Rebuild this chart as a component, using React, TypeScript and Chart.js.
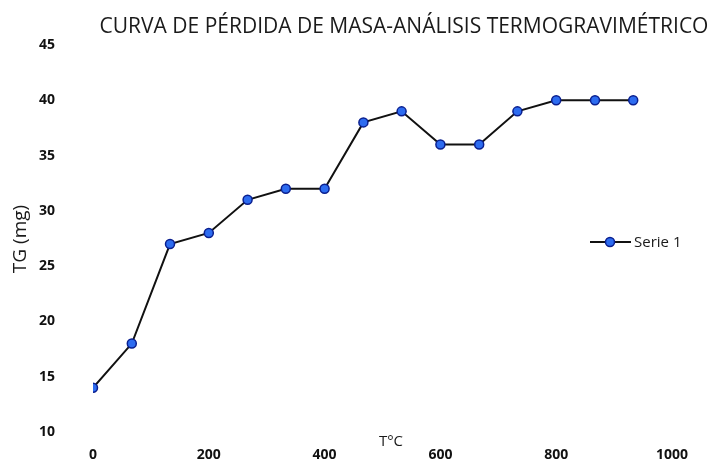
import React, { useEffect, useRef } from "react";
import { Chart, registerables } from "chart.js";

Chart.register(...registerables);

const temperatures = [0, 67, 133, 200, 267, 333, 400, 467, 533, 600, 667, 733, 800, 867, 933];
const masses = [14, 18, 27, 28, 31, 32, 32, 38, 39, 36, 36, 39, 40, 40, 40];
const seriesName = "Serie 1";
const chartTitle = "CURVA DE PÉRDIDA DE MASA-ANÁLISIS TERMOGRAVIMÉTRICO";
const xTitle = "T°C";
const yTitle = "TG (mg)";
const xRange = [0, 1000];
const xStep = 200;
const yRange = [10, 45];
const yStep = 5;

const FONT = "'Open Sans', 'Liberation Sans', sans-serif";

const overlayPlugin = {
  id: "overlay",
  afterDraw(chart: any) {
    const ctx = chart.ctx;
    ctx.save();
    ctx.fillStyle = "#1a1a1a";
    ctx.font = `21px ${FONT}`;
    ctx.textAlign = "center";
    ctx.textBaseline = "middle";
    ctx.fillText(chartTitle, 404, 27);
    ctx.font = `15px ${FONT}`;
    ctx.fillText(xTitle, 391, 442);
    ctx.save();
    ctx.translate(21, 239);
    ctx.rotate(-Math.PI / 2);
    ctx.font = `19px ${FONT}`;
    ctx.fillText(yTitle, 0, 0);
    ctx.restore();
    const ly = 242;
    ctx.strokeStyle = "#111111";
    ctx.lineWidth = 2;
    ctx.beginPath();
    ctx.moveTo(590, ly);
    ctx.lineTo(631, ly);
    ctx.stroke();
    ctx.beginPath();
    ctx.arc(610, ly, 4.5, 0, Math.PI * 2);
    ctx.fillStyle = "#2d6cf0";
    ctx.fill();
    ctx.lineWidth = 1.5;
    ctx.strokeStyle = "#0a1f8f";
    ctx.stroke();
    ctx.fillStyle = "#1a1a1a";
    ctx.font = `15px ${FONT}`;
    ctx.textAlign = "left";
    ctx.fillText(seriesName, 634, ly + 1);
    ctx.restore();
  },
};

export default function App() {
  const ref = useRef<HTMLCanvasElement | null>(null);
  useEffect(() => {
    if (!ref.current) return;
    const chart = new Chart(ref.current, {
      type: "line",
      data: {
        datasets: [
          {
            label: seriesName,
            data: temperatures.map((t, i) => ({ x: t, y: masses[i] })),
            borderColor: "#111111",
            borderWidth: 2,
            pointRadius: 4.5,
            pointBackgroundColor: "#2d6cf0",
            pointBorderColor: "#0a1f8f",
            pointBorderWidth: 1.5,
            tension: 0,
          },
        ],
      },
      options: {
        animation: false,
        responsive: true,
        maintainAspectRatio: false,
        layout: { padding: { top: 45, right: 45, bottom: 0, left: 39 } },
        plugins: {
          legend: { display: false },
          tooltip: { enabled: false },
        },
        scales: {
          x: {
            type: "linear",
            min: xRange[0],
            max: xRange[1],
            grid: { display: false, drawTicks: false },
            border: { display: false },
            afterFit: (s: any) => {
              s.height = 29;
            },
            ticks: {
              stepSize: xStep,
              padding: 15,
              color: "#111111",
              font: { family: FONT, size: 14, weight: "bold" },
              maxRotation: 0,
              callback: (v: any) => String(v),
            },
          },
          y: {
            min: yRange[0],
            max: yRange[1],
            grid: { display: false, drawTicks: false },
            border: { display: false },
            afterFit: (s: any) => {
              s.width = 54;
            },
            ticks: {
              stepSize: yStep,
              padding: 0,
              crossAlign: "far",
              color: "#111111",
              font: { family: FONT, size: 14, weight: "bold" },
              callback: (v: any) => String(v),
            },
          },
        },
      },
      plugins: [overlayPlugin],
    });
    return () => chart.destroy();
  }, []);
  return (
    <div style={{ position: "fixed", left: 0, top: 0, width: 717, height: 461, background: "#ffffff" }}>
      <canvas ref={ref} />
    </div>
  );
}
